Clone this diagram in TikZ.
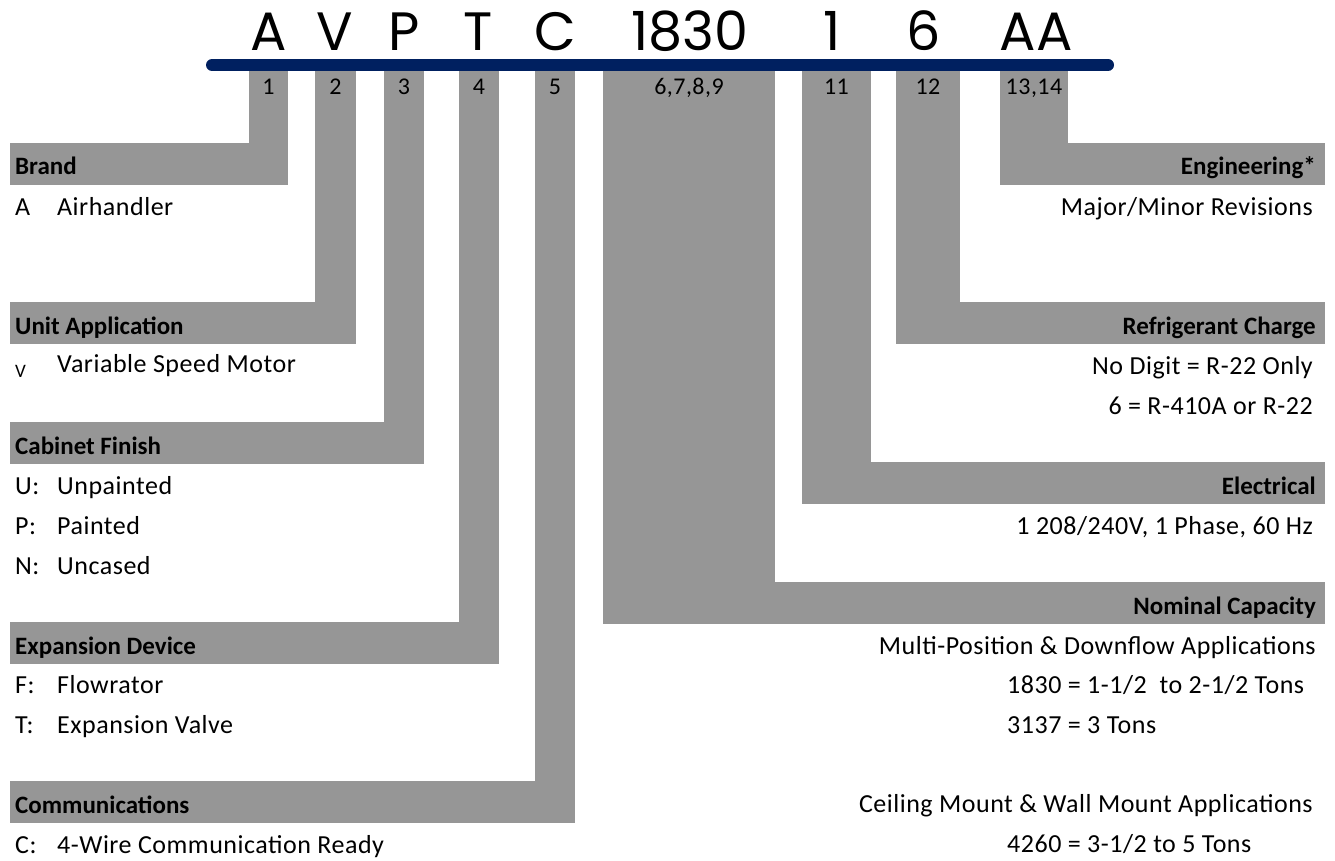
\documentclass[tikz,border=0pt]{standalone}
\usepackage{fontspec}
\usepackage{xcolor}
\usepackage{tikz}
\setmainfont{Carlito}
\newfontfamily\itemfont{Carlito}[LetterSpace=2]
\newfontfamily\codefont{Poppins}
\usetikzlibrary{positioning}
\definecolor{tabgray}{RGB}{150,150,150}
\definecolor{barblue}{RGB}{0,32,96}
\tikzset{
    bigcode/.style={font=\codefont\fontsize{54}{54}\selectfont, inner sep=0pt, anchor=base},
    tabnum/.style={font=\itemfont\fontsize{24}{24}\selectfont, inner sep=0pt, anchor=base},
    headtxt/.style={font=\bfseries\fontsize{25}{25}\selectfont, inner sep=0pt, anchor=base west},
    headright/.style={headtxt, anchor=base east},
    itemtxt/.style={font=\itemfont\fontsize{26}{26}\selectfont, inner sep=0pt, anchor=base west},
    itemright/.style={itemtxt, anchor=base east}
}

\begin{document}
\begin{tikzpicture}[x=1pt, y=-1pt]
    \useasboundingbox (0, 0) rectangle (1335, 861);

    % Model number
    \coordinate (barL) at (212, 65);
    \coordinate (barR) at (1108, 65);
    \draw [barblue, line width=12, line cap=round] (barL) -- (barR);
    \foreach \x/\txt/\id in {269/A/a, 335/V/b, 404/P/c, 478/T/d, 555/C/e, 690/1830/f, 832/1/g, 924/6/h, 1036/AA/i} {
        \node [bigcode] (code\id) at (\x, 51) {\txt};
    }

    % Left side (tabs 1-5)
    \foreach \xa/\xb/\yt/\num in {249/288/143/1, 315/356/302/2, 384/424/422/3, 459/499/622/4, 535/575/781/5} {
        \fill [tabgray] (\xa, 71) rectangle (\xb, \yt+42);
        \fill [tabgray] (10, \yt) rectangle (\xb, \yt+42);
        \node [tabnum] (tab\num) at ({(\xa+\xb)/2}, 95) {\num};
    }

    % Right side (tabs 6-14)
    \foreach \xa/\xb/\yt/\num/\id in {603/775/582/{6,7,8,9}/f, 802/871/462/11/g, 896/960/302/12/h, 1000/1068/143/{13,14}/i} {
        \fill [tabgray] (\xa, 71) rectangle (\xb, \yt+42);
        \fill [tabgray] (\xa, \yt) rectangle (1325, \yt+42);
        \node [tabnum] (tab\id) at ({(\xa+\xb)/2}, 95) {\num};
    }

    % Brand
    \node [headtxt] (brand) at (15, 175) {Brand};
    \node [itemtxt] (brandA) at (15, 215) {A};
    \node [itemtxt] (brandAtxt) at (57, 215) {Airhandler};

    % Unit application
    \node [headtxt] (unitapp) at (15, 334) {Unit Application};
    \node [itemtxt, font=\itemfont\fontsize{19}{19}\selectfont] (unitV) at (15, 377) {V};
    \node [itemtxt] (unitVtxt) at (57, 372) {Variable Speed Motor};

    % Cabinet finish
    \node [headtxt] (cabinet) at (15, 454) {Cabinet Finish};
    \foreach \y/\k/\txt in {494/U/Unpainted, 534/P/Painted, 574/N/Uncased} {
        \node [itemtxt] (cab\k) at (15, \y) {\k:};
        \node [itemtxt] (cab\k txt) at (57, \y) {\txt};
    }

    % Expansion device
    \node [headtxt] (expansion) at (15, 654) {Expansion Device};
    \foreach \y/\k/\txt in {693/F/Flowrator, 733/T/Expansion Valve} {
        \node [itemtxt] (exp\k) at (15, \y) {\k:};
        \node [itemtxt] (exp\k txt) at (57, \y) {\txt};
    }

    % Communications
    \node [headtxt] (comms) at (15, 813) {Communications};
    \node [itemtxt] (commsC) at (15, 853) {C:};
    \node [itemtxt] (commsCtxt) at (57, 853) {4-Wire Communication Ready};

    % Engineering
    \node [headright] (engineering) at (1316, 175) {Engineering*};
    \node [itemright] (revisions) at (1313, 215) {Major/Minor Revisions};

    % Refrigerant charge
    \node [headright] (refrigerant) at (1316, 334) {Refrigerant Charge};
    \node [itemright] (refA) at (1313, 374) {No Digit = R-22 Only};
    \node [itemright] (refB) at (1313, 414) {6 = R-410A or R-22};

    % Electrical
    \node [headright] (electrical) at (1316, 494) {Electrical};
    \node [itemright] (elecA) at (1313, 534) {1 208/240V, 1 Phase, 60 Hz};

    % Nominal capacity
    \node [headright] (capacity) at (1316, 614) {Nominal Capacity};
    \node [itemright] (capMulti) at (1316, 654) {Multi-Position \& Downflow Applications};
    \node [itemtxt] (cap1830) at (1007, 693) {1830 = 1-1/2\ \ to 2-1/2 Tons};
    \node [itemtxt] (cap3137) at (1007, 733) {3137 = 3 Tons};
    \node [itemright] (capCeiling) at (1313, 812) {Ceiling Mount \& Wall Mount Applications};
    \node [itemtxt] (cap4260) at (1007, 852) {4260 = 3-1/2 to 5 Tons};
\end{tikzpicture}
\end{document}
